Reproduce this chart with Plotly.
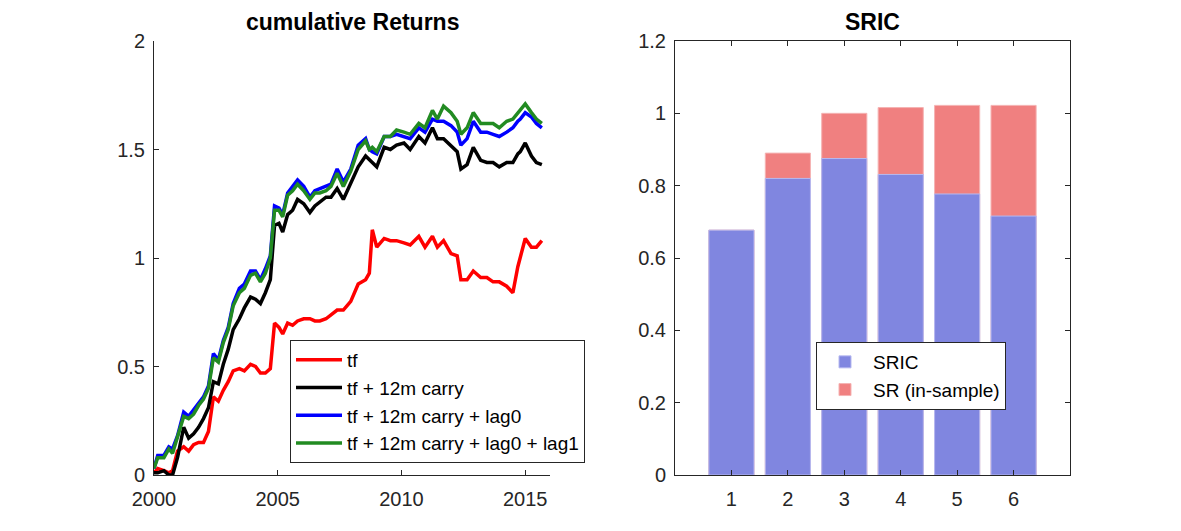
import plotly.graph_objects as go

# time axis (decimal years) shared by all return series
years = [
    2000.0, 2000.15, 2000.4, 2000.6, 2000.75, 2000.95, 2001.2, 2001.4, 2001.6, 2001.8,
    2002.0, 2002.2, 2002.4, 2002.6, 2002.8, 2003.0, 2003.2, 2003.45, 2003.65, 2003.9,
    2004.1, 2004.3, 2004.5, 2004.7, 2004.87, 2005.05, 2005.2, 2005.4, 2005.6, 2005.8,
    2006.05, 2006.3, 2006.5, 2006.7, 2006.95, 2007.15, 2007.4, 2007.65, 2007.95, 2008.25,
    2008.55, 2008.7, 2008.82, 2009.0, 2009.3, 2009.55, 2009.8, 2010.1, 2010.35, 2010.7,
    2010.95, 2011.25, 2011.45, 2011.7, 2012.0, 2012.25, 2012.4, 2012.65, 2012.9, 2013.2,
    2013.45, 2013.7, 2013.95, 2014.25, 2014.5, 2014.7, 2014.8, 2015.0, 2015.25, 2015.45,
    2015.67,
]

ret_tf = [
    0.01, 0.03, 0.02, 0.01, 0.02, 0.11, 0.13, 0.11, 0.14, 0.15,
    0.15, 0.20, 0.36, 0.34, 0.39, 0.43, 0.48, 0.49, 0.48, 0.51,
    0.50, 0.47, 0.47, 0.49, 0.70, 0.68, 0.65, 0.70, 0.69, 0.71,
    0.72, 0.72, 0.71, 0.71, 0.72, 0.74, 0.76, 0.76, 0.80, 0.88,
    0.90, 0.93, 1.13, 1.05, 1.09, 1.08, 1.08, 1.07, 1.06, 1.10,
    1.05, 1.10, 1.05, 1.08, 1.02, 1.01, 0.90, 0.90, 0.94, 0.91,
    0.91, 0.89, 0.89, 0.87, 0.84, 0.96, 1.00, 1.09, 1.05, 1.05,
    1.08,
]

ret_carry = [
    0.01, 0.01, 0.02, 0.00, 0.00, 0.08, 0.22, 0.17, 0.19, 0.22,
    0.26, 0.31, 0.43, 0.42, 0.51, 0.58, 0.67, 0.72, 0.77, 0.82,
    0.81, 0.79, 0.84, 0.90, 1.15, 1.16, 1.12, 1.20, 1.22, 1.27,
    1.25, 1.21, 1.24, 1.26, 1.28, 1.28, 1.32, 1.27, 1.35, 1.42,
    1.47, 1.45, 1.44, 1.42, 1.51, 1.50, 1.52, 1.53, 1.50, 1.56,
    1.53, 1.60, 1.55, 1.55, 1.52, 1.49, 1.41, 1.43, 1.51, 1.45,
    1.44, 1.44, 1.42, 1.44, 1.44, 1.48, 1.49, 1.53, 1.47, 1.44,
    1.43,
]

ret_lag0 = [
    0.03, 0.09, 0.09, 0.13, 0.12, 0.18, 0.29, 0.27, 0.30, 0.33,
    0.36, 0.41, 0.56, 0.53, 0.62, 0.68, 0.79, 0.86, 0.88, 0.94,
    0.94, 0.90, 0.95, 1.01, 1.24, 1.23, 1.20, 1.30, 1.33, 1.36,
    1.33, 1.28, 1.31, 1.32, 1.33, 1.34, 1.41, 1.35, 1.41, 1.52,
    1.55, 1.50, 1.49, 1.48, 1.56, 1.56, 1.57, 1.56, 1.55, 1.60,
    1.58, 1.64, 1.63, 1.63, 1.61, 1.58, 1.52, 1.55, 1.63, 1.58,
    1.58, 1.57, 1.56, 1.58, 1.60, 1.63, 1.64, 1.67, 1.65, 1.62,
    1.60,
]

ret_lag1 = [
    0.03, 0.08, 0.08, 0.12, 0.10, 0.17, 0.27, 0.26, 0.28, 0.32,
    0.35, 0.40, 0.54, 0.52, 0.61, 0.67, 0.78, 0.84, 0.86, 0.92,
    0.93, 0.89, 0.93, 1.00, 1.22, 1.22, 1.19, 1.29, 1.31, 1.34,
    1.31, 1.27, 1.30, 1.30, 1.31, 1.33, 1.39, 1.33, 1.40, 1.50,
    1.54, 1.50, 1.51, 1.49, 1.56, 1.56, 1.59, 1.58, 1.57, 1.62,
    1.60, 1.68, 1.64, 1.70, 1.67, 1.63, 1.57, 1.60, 1.67, 1.62,
    1.62, 1.62, 1.60, 1.63, 1.64, 1.67, 1.68, 1.71, 1.67, 1.64,
    1.62,
]

series_names = ["tf", "tf + 12m carry", "tf + 12m carry + lag0", "tf + 12m carry + lag0 + lag1"]
series_colors = ["#FF0000", "#000000", "#0000FF", "#228B22"]

# SRIC bars
models = [1, 2, 3, 4, 5, 6]
sric = [0.677, 0.820, 0.875, 0.831, 0.777, 0.716]
sr_insample = [0.677, 0.890, 1.000, 1.016, 1.022, 1.022]

W, H = 1181, 531
OFF = 8  # page body margin shifts the figure by this much
# plot area in screen pixels (both panels share top/bottom)
L, R, T, B = 154, 1070, 41, 475
PW, PH = R - L, B - T


def px(x):
    return (x - L) / PW


def py(y):
    return (B - y) / PH


FONT = "Liberation Sans, Arial, sans-serif"
TXT = "#262626"

fig = go.Figure()

for name, color, vals in zip(series_names, series_colors, [ret_tf, ret_carry, ret_lag0, ret_lag1]):
    fig.add_trace(go.Scatter(
        x=years, y=vals, mode="lines", name=name,
        line=dict(color=color, width=3.5),
        xaxis="x", yaxis="y", legend="legend",
    ))

fig.add_trace(go.Bar(
    x=models, y=sr_insample, name="SR (in-sample)", width=0.8,
    marker=dict(color="#F08080", line=dict(color="#F5B3B3", width=1)),
    xaxis="x2", yaxis="y2", legend="legend2", legendrank=2,
))
fig.add_trace(go.Bar(
    x=models, y=sric, name="SRIC", width=0.8,
    marker=dict(color="#8086E0", line=dict(color="#B6B9F0", width=1)),
    xaxis="x2", yaxis="y2", legend="legend2", legendrank=1,
))

axis_common = dict(
    ticks="inside", ticklen=5, tickcolor=TXT, linecolor=TXT, linewidth=1,
    showline=True, showgrid=False, zeroline=False, automargin=False,
    tickfont=dict(family=FONT, size=20, color=TXT),
)

fig.update_layout(
    width=W, height=H,
    paper_bgcolor="white", plot_bgcolor="white",
    margin=dict(l=L - OFF, r=W - R + OFF, t=T - OFF, b=H - B + OFF, autoexpand=False),
    barmode="overlay",
    xaxis=dict(domain=[0, px(550)], range=[2000, 2016],
               tickvals=[2000, 2005, 2010, 2015], anchor="y",
               ticklabelstandoff=6, **axis_common),
    yaxis=dict(domain=[0, 1], range=[0, 2], tickvals=[0, 0.5, 1, 1.5, 2],
               ticktext=["0", "0.5", "1", "1.5", "2"], anchor="x",
               ticklabelstandoff=4, **axis_common),
    xaxis2=dict(domain=[px(675), 1], range=[0, 7], tickvals=models,
                anchor="y2", mirror="ticks", ticklabelstandoff=6, **axis_common),
    yaxis2=dict(domain=[0, 1], range=[0, 1.2], tickvals=[0, 0.2, 0.4, 0.6, 0.8, 1, 1.2],
                ticktext=["0", "0.2", "0.4", "0.6", "0.8", "1", "1.2"],
                anchor="x2", mirror="ticks", ticklabelstandoff=4, **axis_common),
    legend=dict(x=px(290), y=py(340), xanchor="left", yanchor="top",
                bgcolor="white", bordercolor=TXT, borderwidth=1,
                font=dict(family=FONT, size=19, color="black"),
                itemwidth=46, tracegroupgap=0),
    legend2=dict(x=px(816), y=py(342), xanchor="left", yanchor="top",
                 bgcolor="white", bordercolor=TXT, borderwidth=1,
                 font=dict(family=FONT, size=19, color="black"),
                 itemwidth=46, traceorder="normal"),
    annotations=[
        dict(text="<b>cumulative Returns</b>", x=px(352), y=py(22), xref="paper", yref="paper",
             xanchor="center", yanchor="middle", showarrow=False,
             font=dict(family=FONT, size=23, color="black")),
        dict(text="<b>SRIC</b>", x=px(872), y=py(22), xref="paper", yref="paper",
             xanchor="center", yanchor="middle", showarrow=False,
             font=dict(family=FONT, size=23, color="black")),
    ],
)

fig.write_html("out.html")
